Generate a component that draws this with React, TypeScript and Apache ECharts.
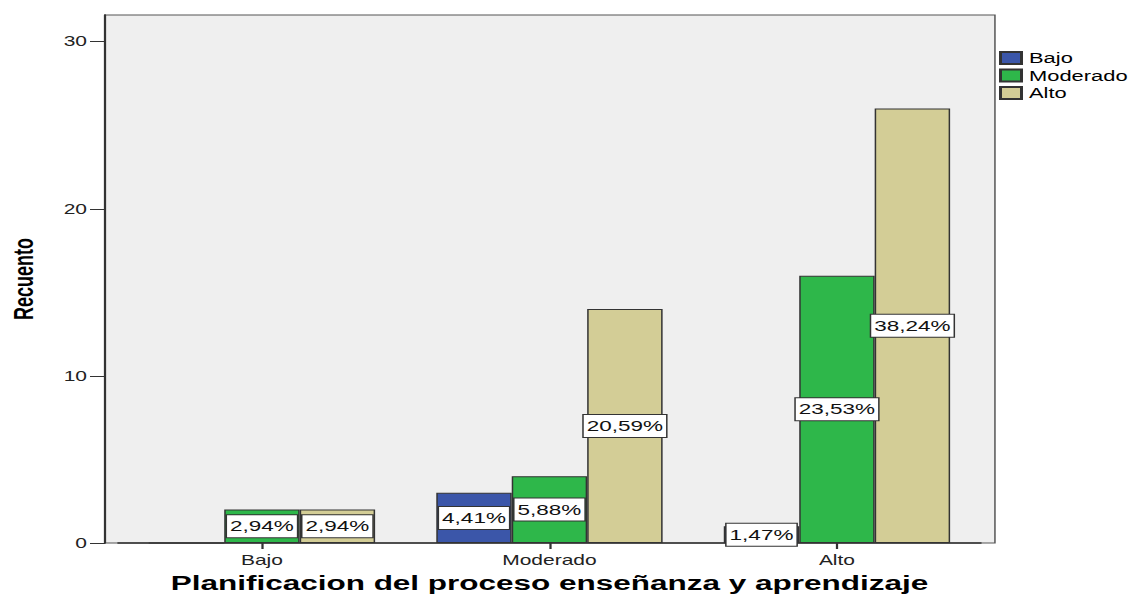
import React, { useEffect, useRef } from "react";
import * as echarts from "echarts";

const categories = ["Bajo", "Moderado", "Alto"];
const seriesNames = ["Bajo", "Moderado", "Alto"];
const valuesBajo = [0, 3, 1];
const valuesModerado = [2, 4, 16];
const valuesAlto = [2, 14, 26];
const labelsBajo = ["", "4,41%", "1,47%"];
const labelsModerado = ["2,94%", "5,88%", "23,53%"];
const labelsAlto = ["2,94%", "20,59%", "38,24%"];
const yTicks = [0, 10, 20, 30];
const colors = ["#3b56a9", "#2eb74a", "#d3cd96"];

const STRETCH = 1.5;
const W = 1131 / STRETCH;
const H = 601;
const FONT = "'Liberation Sans', Arial, sans-serif";

export default function App() {
  const ref = useRef<HTMLDivElement>(null);
  useEffect(() => {
    if (!ref.current) return;
    const chart = echarts.init(ref.current, undefined, { renderer: "svg" });
    const yMax = 31.6;
    const values = [valuesBajo, valuesModerado, valuesAlto];
    const labels = [labelsBajo, labelsModerado, labelsAlto];
    chart.setOption({
      animation: false,
      backgroundColor: "#ffffff",
      textStyle: { fontFamily: FONT },
      legend: {
        orient: "vertical",
        left: 661,
        top: 45,
        itemWidth: 14,
        itemHeight: 12,
        itemGap: 1.5,
        icon: "rect",
        data: seriesNames,
        textStyle: { fontSize: 14.6, color: "#000", lineHeight: 16, fontFamily: FONT },
      },
      grid: [
        {
          left: 70,
          right: W - 663.3,
          top: 15,
          bottom: 58,
          show: true,
          backgroundColor: "#efefef",
          borderColor: "#555",
          borderWidth: 1,
          containLabel: false,
          outerBoundsMode: "none",
        },
        {
          left: 78.8,
          right: W - 78.8 - 575,
          top: 15,
          bottom: 58,
          containLabel: false,
          outerBoundsMode: "none",
        },
      ],
      xAxis: [
        { type: "value", gridIndex: 0, show: false, min: 0, max: 1 },
        {
          type: "category",
          gridIndex: 1,
          data: categories,
          axisLine: { show: true, lineStyle: { color: "#333", width: 1.5 } },
          axisTick: { show: true, alignWithLabel: true, length: 6, lineStyle: { color: "#333", width: 1.5 } },
          axisLabel: { fontSize: 14, color: "#222", margin: 10, fontFamily: FONT },
          name: "Planificacion del proceso enseñanza y aprendizaje",
          nameLocation: "middle",
          nameGap: 29,
          nameTextStyle: { fontSize: 21, fontWeight: "bold", color: "#000", fontFamily: FONT },
        },
      ],
      yAxis: [
        {
          type: "value",
          gridIndex: 0,
          min: 0,
          max: yMax,
          interval: 10,
          splitLine: { show: false },
          axisLine: { show: true, lineStyle: { color: "#333", width: 1.5 } },
          axisTick: { show: true, inside: false, length: 10, customValues: yTicks, lineStyle: { color: "#333", width: 1 } },
          axisLabel: { fontSize: 14, color: "#222", margin: 12, customValues: yTicks, fontFamily: FONT },
          name: "Recuento",
          nameLocation: "middle",
          nameGap: 45,
          nameTextStyle: { fontSize: 18, fontWeight: "bold", color: "#000", fontFamily: FONT },
        },
        { type: "value", gridIndex: 1, min: 0, max: yMax, show: false },
      ],
      series: seriesNames.map((name, i) => ({
        name,
        type: "bar",
        xAxisIndex: 1,
        yAxisIndex: 1,
        barWidth: 50.3,
        barGap: "0%",
        data: values[i].map((v, j) => ({
          value: v,
          label: { show: labels[i][j] !== "" },
        })),
        itemStyle: { color: colors[i], borderColor: "#333", borderWidth: 1 },
        label: {
          show: true,
          position: "inside",
          formatter: (p: any) => labels[i][p.dataIndex],
          backgroundColor: "#ffffff",
          borderColor: "#333",
          borderWidth: 1,
          padding: [4, 2, 3, 2],
          color: "#111",
          fontSize: 15,
          fontFamily: FONT,
        },
      })),
    });
    return () => chart.dispose();
  }, []);
  return (
    <div
      style={{
        position: "fixed",
        left: 0,
        top: 0,
        width: 1131,
        height: H,
        overflow: "hidden",
        background: "#fff",
      }}
    >
      <div
        ref={ref}
        style={{
          width: W,
          height: H,
          transform: `scaleX(${STRETCH})`,
          transformOrigin: "0 0",
        }}
      />
    </div>
  );
}
